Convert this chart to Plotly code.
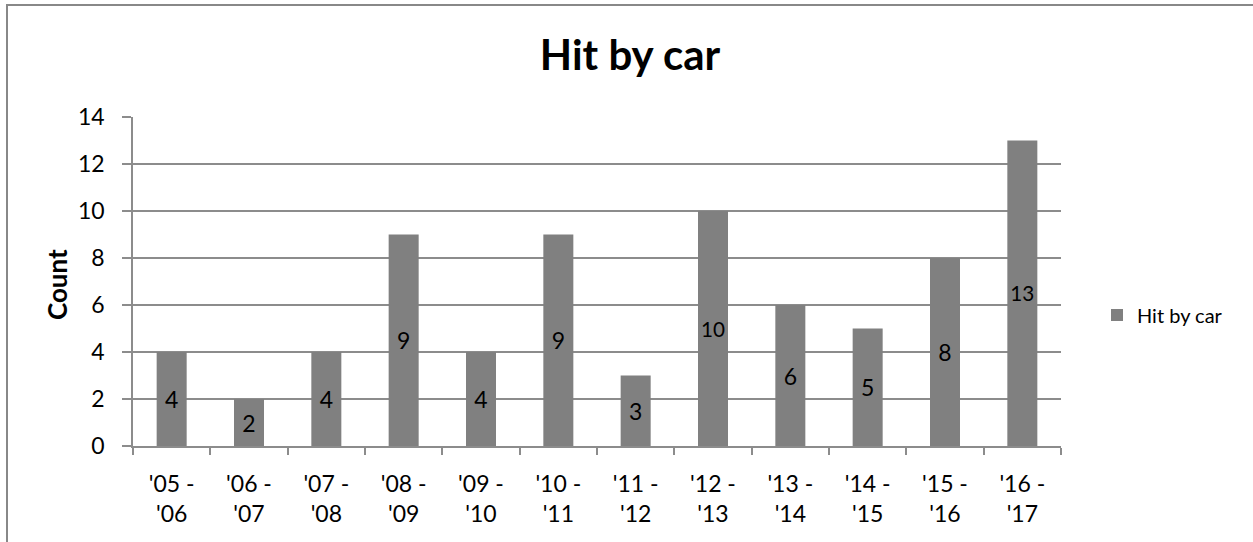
import plotly.graph_objects as go

# Seasons and counts of animals hit by car
seasons = ["'05 -<br>'06", "'06 -<br>'07", "'07 -<br>'08", "'08 -<br>'09", "'09 -<br>'10",
           "'10 -<br>'11", "'11 -<br>'12", "'12 -<br>'13", "'13 -<br>'14", "'14 -<br>'15",
           "'15 -<br>'16", "'16 -<br>'17"]
counts = [4, 2, 4, 9, 4, 9, 3, 10, 6, 5, 8, 13]
y_ticks = [0, 2, 4, 6, 8, 10, 12, 14]

W, H = 1253, 542
L, R, T, B = 133, 1061, 117, 446
FONT = "Lato, 'Open Sans', sans-serif"
GRID = "#8c8c8c"

fig = go.Figure()
fig.add_trace(go.Bar(
    x=seasons, y=counts, name="Hit by car",
    marker=dict(color="#808080", line=dict(width=0)),
    text=[str(v) for v in counts], textposition="inside",
    insidetextanchor="middle", textangle=0,
    textfont=dict(family=FONT, size=23, color="#000000"),
    cliponaxis=False,
))

pw, ph = R - L, B - T


def px_x(p):
    return (p - L) / pw


def px_y(p):
    return (B - p) / ph


fig.update_layout(
    width=W, height=H,
    margin=dict(l=L, r=W - R, t=T, b=H - B, pad=0),
    paper_bgcolor="white", plot_bgcolor="white",
    font=dict(family=FONT, size=23, color="#000000"),
    bargap=0.612,
    showlegend=True,
    legend=dict(x=px_x(1097), y=px_y(315), xanchor="left", yanchor="middle",
                font=dict(family=FONT, size=20, color="#000000"),
                bgcolor="rgba(0,0,0,0)", itemwidth=30),
    title=dict(text="<b>Hit by car</b>", x=630 / W, xanchor="center",
               y=1 - 55 / H, yanchor="middle",
               font=dict(family=FONT, size=42, color="#000000")),
    xaxis=dict(type="category", showgrid=False, showline=True, linecolor=GRID,
               linewidth=1.5, ticks="outside", tickson="boundaries", ticklen=7,
               tickcolor=GRID, tickwidth=1.5, tickfont=dict(size=23),
               ticklabelstandoff=17),
    yaxis=dict(range=[0, 14], tickvals=y_ticks, showgrid=True, gridcolor=GRID,
               gridwidth=1.5, showline=True, linecolor=GRID, linewidth=1.5,
               ticks="outside", ticklen=9, tickcolor=GRID, tickwidth=1.5,
               tickfont=dict(size=23), zeroline=False, ticklabelstandoff=13),
)

# Y-axis title
fig.add_annotation(text="<b>Count</b>", x=px_x(57), y=px_y(285), xref="paper", yref="paper",
                   textangle=-90, showarrow=False, xanchor="center", yanchor="middle",
                   font=dict(family=FONT, size=26, color="#000000"))

# Chart frame
fig.add_shape(type="rect", xref="paper", yref="paper",
              x0=px_x(7), x1=px_x(1300), y0=px_y(600), y1=px_y(5),
              line=dict(color="#888888", width=2), fillcolor="rgba(0,0,0,0)", layer="below")

fig.write_html("out.html")
